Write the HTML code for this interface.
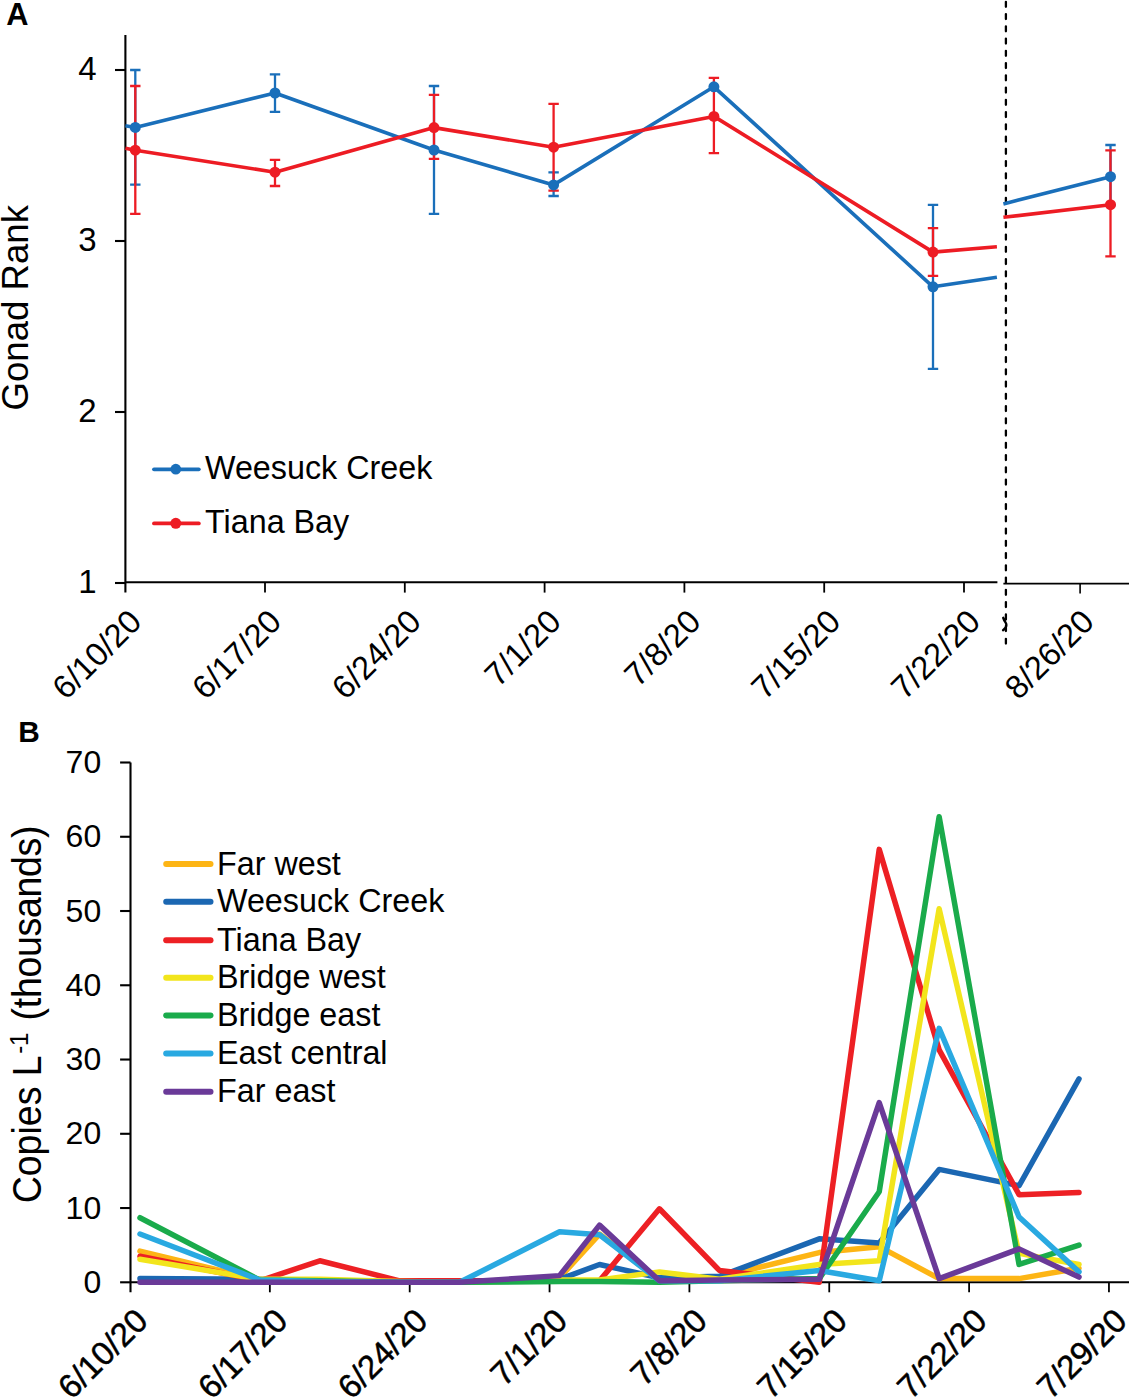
<!DOCTYPE html><html><head><meta charset="utf-8"><style>html,body{margin:0;padding:0;background:#fff;}svg{display:block} text{font-family:"Liberation Sans",sans-serif;fill:#000}</style></head><body>
<svg width="1129" height="1398" viewBox="0 0 1129 1398">
<rect width="1129" height="1398" fill="#fff"/>
<text x="6.3" y="24.8" font-size="30.8" font-weight="bold">A</text>
<g stroke="#000" stroke-width="2.1" fill="none">
<path d="M125.4 35 V592.6"/>
<path d="M115 70 H125.4"/>
<path d="M115 241 H125.4"/>
<path d="M115 412 H125.4"/>
<path d="M115 583 H125.4"/>
<path d="M125.4 582.3 H997.4"/>
<path d="M265 583 V592.6" stroke-width="1.8"/>
<path d="M404.8 583 V592.6" stroke-width="1.8"/>
<path d="M544.6 583 V592.6" stroke-width="1.8"/>
<path d="M684.4 583 V592.6" stroke-width="1.8"/>
<path d="M824.2 583 V592.6" stroke-width="1.8"/>
<path d="M964 583 V592.6" stroke-width="1.8"/>
</g>
<path d="M1003.4 583.6 H1129 M1080.1 583 V593.6" stroke="#000" stroke-width="1.6" fill="none"/>
<text x="96.7" y="80" font-size="33" text-anchor="end">4</text>
<text x="96.7" y="251" font-size="33" text-anchor="end">3</text>
<text x="96.7" y="422" font-size="33" text-anchor="end">2</text>
<text x="96.7" y="593" font-size="33" text-anchor="end">1</text>
<text transform="translate(28.2,410.5) rotate(-90) scale(1,1.03)" font-size="36.6">Gonad Rank</text>
<text transform="translate(143.4,623.7) rotate(-45)" font-size="32.8" text-anchor="end">6/10/20</text>
<text transform="translate(283.2,623.7) rotate(-45)" font-size="32.8" text-anchor="end">6/17/20</text>
<text transform="translate(423,623.7) rotate(-45)" font-size="32.8" text-anchor="end">6/24/20</text>
<text transform="translate(562.8,623.7) rotate(-45)" font-size="32.8" text-anchor="end">7/1/20</text>
<text transform="translate(702.6,623.7) rotate(-45)" font-size="32.8" text-anchor="end">7/8/20</text>
<text transform="translate(842.4,623.7) rotate(-45)" font-size="32.8" text-anchor="end">7/15/20</text>
<text transform="translate(982.2,623.7) rotate(-45)" font-size="32.8" text-anchor="end">7/22/20</text>
<text transform="translate(1095.9,623.7) rotate(-45)" font-size="32.8" text-anchor="end">8/26/20</text>
<path d="M1005.9 -10.4 V643.5" stroke="#000" stroke-width="2.3" stroke-dasharray="5 7.25" stroke-linecap="round" fill="none"/>
<rect x="1000" y="610" width="12" height="25" fill="#fff"/>
<path d="M1005.9 614.5 V619.5 M1003.2 617.8 Q1004 620.5 1005.6 622.5 Q1007.2 625 1005.6 627.5 Q1004 629.5 1003 630.2 M1005.9 626 V631" stroke="#000" stroke-width="2.3" stroke-linecap="round" fill="none"/>
<path d="M135.3 70 V184.6 M130.1 70 H140.5 M130.1 184.6 H140.5" stroke="#1a6fba" stroke-width="2.3" fill="none"/>
<path d="M275 74.4 V111.8 M269.8 74.4 H280.2 M269.8 111.8 H280.2" stroke="#1a6fba" stroke-width="2.3" fill="none"/>
<path d="M434 86 V213.8 M428.8 86 H439.2 M428.8 213.8 H439.2" stroke="#1a6fba" stroke-width="2.3" fill="none"/>
<path d="M553.6 172.3 V196 M548.4 172.3 H558.8 M548.4 196 H558.8" stroke="#1a6fba" stroke-width="2.3" fill="none"/>
<path d="M933 204.8 V368.8 M927.8 204.8 H938.2 M927.8 368.8 H938.2" stroke="#1a6fba" stroke-width="2.3" fill="none"/>
<path d="M1110.5 145 V205 M1105.3 145 H1115.7 M1105.3 205 H1115.7" stroke="#1a6fba" stroke-width="2.3" fill="none"/>
<path d="M135.3 86 V213.9 M130.1 86 H140.5 M130.1 213.9 H140.5" stroke="#ed1c24" stroke-width="2.3" fill="none"/>
<path d="M275 159.8 V186 M269.8 159.8 H280.2 M269.8 186 H280.2" stroke="#ed1c24" stroke-width="2.3" fill="none"/>
<path d="M434 94.9 V158.8 M428.8 94.9 H439.2 M428.8 158.8 H439.2" stroke="#ed1c24" stroke-width="2.3" fill="none"/>
<path d="M553.6 103.8 V190.6 M548.4 103.8 H558.8 M548.4 190.6 H558.8" stroke="#ed1c24" stroke-width="2.3" fill="none"/>
<path d="M713.9 77.8 V153.1 M708.7 77.8 H719.1 M708.7 153.1 H719.1" stroke="#ed1c24" stroke-width="2.3" fill="none"/>
<path d="M933 228.2 V275.9 M927.8 228.2 H938.2 M927.8 275.9 H938.2" stroke="#ed1c24" stroke-width="2.3" fill="none"/>
<path d="M1110.5 150.3 V256.4 M1105.3 150.3 H1115.7 M1105.3 256.4 H1115.7" stroke="#ed1c24" stroke-width="2.3" fill="none"/>
<path d="M125.4 125.7 L135.3 127.4 L275 93 L434 150 L553.6 184.9 L713.9 86.8 L933 286.8 L996.9 277.3" stroke="#1a6fba" stroke-width="3.6" fill="none" stroke-linejoin="round"/>
<path d="M1003.4 203.9 L1110.5 176.7" stroke="#1a6fba" stroke-width="3.6" fill="none" stroke-linejoin="round"/>
<circle cx="135.3" cy="127.4" r="5.5" fill="#1a6fba"/>
<circle cx="275" cy="93" r="5.5" fill="#1a6fba"/>
<circle cx="434" cy="150" r="5.5" fill="#1a6fba"/>
<circle cx="553.6" cy="184.9" r="5.5" fill="#1a6fba"/>
<circle cx="713.9" cy="86.8" r="5.5" fill="#1a6fba"/>
<circle cx="933" cy="286.8" r="5.5" fill="#1a6fba"/>
<circle cx="1110.5" cy="176.7" r="5.5" fill="#1a6fba"/>
<path d="M125.4 148.2 L135.3 150.2 L275 172.2 L434 127.6 L553.6 147.2 L713.9 116.4 L933 252.1 L996.9 246.8" stroke="#ed1c24" stroke-width="3.6" fill="none" stroke-linejoin="round"/>
<path d="M1003.4 217.3 L1110.5 204.7" stroke="#ed1c24" stroke-width="3.6" fill="none" stroke-linejoin="round"/>
<circle cx="135.3" cy="150.2" r="5.5" fill="#ed1c24"/>
<circle cx="275" cy="172.2" r="5.5" fill="#ed1c24"/>
<circle cx="434" cy="127.6" r="5.5" fill="#ed1c24"/>
<circle cx="553.6" cy="147.2" r="5.5" fill="#ed1c24"/>
<circle cx="713.9" cy="116.4" r="5.5" fill="#ed1c24"/>
<circle cx="933" cy="252.1" r="5.5" fill="#ed1c24"/>
<circle cx="1110.5" cy="204.7" r="5.5" fill="#ed1c24"/>
<path d="M154 469.3 H198.8" stroke="#1a6fba" stroke-width="3.8" stroke-linecap="round"/><circle cx="175.8" cy="469.2" r="5.4" fill="#1a6fba"/>
<text x="205" y="479" font-size="32.3">Weesuck Creek</text>
<path d="M154 523.4 H198.8" stroke="#ed1c24" stroke-width="3.8" stroke-linecap="round"/><circle cx="175.8" cy="523.3" r="5.5" fill="#ed1c24"/>
<text x="205" y="533.4" font-size="32.3">Tiana Bay</text>
<text x="18.3" y="741.6" font-size="29.8" font-weight="bold">B</text>
<g stroke="#000" stroke-width="2.1" fill="none">
<path d="M130.5 762.5 V1292.3"/>
<path d="M120.1 1282.3 H130.5"/>
<path d="M120.1 1208.04 H130.5"/>
<path d="M120.1 1133.79 H130.5"/>
<path d="M120.1 1059.53 H130.5"/>
<path d="M120.1 985.27 H130.5"/>
<path d="M120.1 911.01 H130.5"/>
<path d="M120.1 836.76 H130.5"/>
<path d="M120.1 762.5 H130.5"/>
<path d="M130.5 1282.3 H1129"/>
<path d="M269.85 1282.3 V1292.3" stroke-width="1.8"/>
<path d="M409.7 1282.3 V1292.3" stroke-width="1.8"/>
<path d="M549.55 1282.3 V1292.3" stroke-width="1.8"/>
<path d="M689.4 1282.3 V1292.3" stroke-width="1.8"/>
<path d="M829.25 1282.3 V1292.3" stroke-width="1.8"/>
<path d="M969.1 1282.3 V1292.3" stroke-width="1.8"/>
<path d="M1108.95 1282.3 V1292.3" stroke-width="1.8"/>
</g>
<text x="101.2" y="1292.8" font-size="32" text-anchor="end">0</text>
<text x="101.2" y="1218.54" font-size="32" text-anchor="end">10</text>
<text x="101.2" y="1144.29" font-size="32" text-anchor="end">20</text>
<text x="101.2" y="1070.03" font-size="32" text-anchor="end">30</text>
<text x="101.2" y="995.77" font-size="32" text-anchor="end">40</text>
<text x="101.2" y="921.51" font-size="32" text-anchor="end">50</text>
<text x="101.2" y="847.26" font-size="32" text-anchor="end">60</text>
<text x="101.2" y="773" font-size="32" text-anchor="end">70</text>
<text transform="translate(41.3,1203.3) rotate(-90) scale(1,1.06)" font-size="37.5">Copies L<tspan font-size="24" dx="1.5" dy="-12.6">-1</tspan><tspan dy="12.6" dx="2" letter-spacing="-0.3"> (thousands)</tspan></text>
<text transform="translate(149.7,1322.7) rotate(-45)" font-size="33" text-anchor="end" stroke="#000" stroke-width="0.5">6/10/20</text>
<text transform="translate(289.55,1322.7) rotate(-45)" font-size="33" text-anchor="end" stroke="#000" stroke-width="0.5">6/17/20</text>
<text transform="translate(429.4,1322.7) rotate(-45)" font-size="33" text-anchor="end" stroke="#000" stroke-width="0.5">6/24/20</text>
<text transform="translate(569.25,1322.7) rotate(-45)" font-size="33" text-anchor="end" stroke="#000" stroke-width="0.5">7/1/20</text>
<text transform="translate(709.1,1322.7) rotate(-45)" font-size="33" text-anchor="end" stroke="#000" stroke-width="0.5">7/8/20</text>
<text transform="translate(848.95,1322.7) rotate(-45)" font-size="33" text-anchor="end" stroke="#000" stroke-width="0.5">7/15/20</text>
<text transform="translate(988.8,1322.7) rotate(-45)" font-size="33" text-anchor="end" stroke="#000" stroke-width="0.5">7/22/20</text>
<text transform="translate(1128.65,1322.7) rotate(-45)" font-size="33" text-anchor="end" stroke="#000" stroke-width="0.5">7/29/20</text>
<path d="M139.99 1251.11 L259.86 1280.07 L319.8 1280.81 L399.72 1282.3 L459.65 1282.3 L559.55 1277.84 L599.51 1234.03 L659.44 1280.07 L719.38 1277.1 L819.28 1252.6 L879.21 1246.66 L939.15 1278.59 L1019.07 1278.59 L1079 1268.19" stroke="#fdb515" stroke-width="5.5" fill="none" stroke-linejoin="round" stroke-linecap="round"/>
<path d="M139.99 1278.59 L259.86 1279.33 L319.8 1280.81 L399.72 1282.3 L459.65 1282.3 L559.55 1279.33 L599.51 1264.48 L659.44 1277.84 L719.38 1276.36 L819.28 1238.86 L879.21 1242.94 L939.15 1169.43 L1019.07 1185.77 L1079 1078.84" stroke="#1b67b2" stroke-width="5.5" fill="none" stroke-linejoin="round" stroke-linecap="round"/>
<path d="M139.99 1256.31 L259.86 1280.81 L319.8 1260.77 L399.72 1280.81 L459.65 1280.81 L559.55 1280.81 L599.51 1280.81 L659.44 1208.79 L719.38 1270.42 L819.28 1282.3 L879.21 849.38 L939.15 1049.88 L1019.07 1194.68 L1079 1192.45" stroke="#ed2024" stroke-width="5.5" fill="none" stroke-linejoin="round" stroke-linecap="round"/>
<path d="M139.99 1259.28 L259.86 1279.33 L319.8 1279.33 L399.72 1281.56 L459.65 1282.3 L559.55 1280.07 L599.51 1280.07 L659.44 1271.9 L719.38 1279.33 L819.28 1264.48 L879.21 1260.77 L939.15 908.79 L1019.07 1253.34 L1079 1264.48" stroke="#f2e51c" stroke-width="5.5" fill="none" stroke-linejoin="round" stroke-linecap="round"/>
<path d="M139.99 1217.7 L259.86 1280.07 L319.8 1280.81 L399.72 1282.3 L459.65 1282.3 L559.55 1281.56 L599.51 1281.56 L659.44 1282.3 L719.38 1280.81 L819.28 1278.59 L879.21 1191.71 L939.15 816.71 L1019.07 1264.48 L1079 1245.17" stroke="#1aab4b" stroke-width="5.5" fill="none" stroke-linejoin="round" stroke-linecap="round"/>
<path d="M139.99 1234.03 L259.86 1280.07 L319.8 1281.56 L399.72 1282.3 L459.65 1282.3 L559.55 1231.81 L599.51 1234.78 L659.44 1280.81 L719.38 1280.81 L819.28 1270.42 L879.21 1280.81 L939.15 1028.34 L1019.07 1216.95 L1079 1271.9" stroke="#29a9e1" stroke-width="5.5" fill="none" stroke-linejoin="round" stroke-linecap="round"/>
<path d="M139.99 1282.3 L259.86 1282.3 L319.8 1282.3 L399.72 1282.3 L459.65 1282.3 L559.55 1275.62 L599.51 1225.12 L659.44 1280.81 L719.38 1280.07 L819.28 1279.33 L879.21 1102.6 L939.15 1278.59 L1019.07 1248.88 L1079 1277.1" stroke="#6a3a98" stroke-width="5.5" fill="none" stroke-linejoin="round" stroke-linecap="round"/>
<path d="M166.2 863.9 H210.5" stroke="#fdb515" stroke-width="6" stroke-linecap="round"/>
<text x="217" y="874.5" font-size="32.3">Far west</text>
<path d="M166.2 901.7 H210.5" stroke="#1b67b2" stroke-width="6" stroke-linecap="round"/>
<text x="217" y="912.3" font-size="32.3">Weesuck Creek</text>
<path d="M166.2 940.2 H210.5" stroke="#ed2024" stroke-width="6" stroke-linecap="round"/>
<text x="217" y="950.8" font-size="32.3">Tiana Bay</text>
<path d="M166.2 977.7 H210.5" stroke="#f2e51c" stroke-width="6" stroke-linecap="round"/>
<text x="217" y="988.3" font-size="32.3">Bridge west</text>
<path d="M166.2 1015.4 H210.5" stroke="#1aab4b" stroke-width="6" stroke-linecap="round"/>
<text x="217" y="1026" font-size="32.3">Bridge east</text>
<path d="M166.2 1053.4 H210.5" stroke="#29a9e1" stroke-width="6" stroke-linecap="round"/>
<text x="217" y="1064" font-size="32.3">East central</text>
<path d="M166.2 1091.7 H210.5" stroke="#6a3a98" stroke-width="6" stroke-linecap="round"/>
<text x="217" y="1102.3" font-size="32.3">Far east</text>
</svg></body></html>
